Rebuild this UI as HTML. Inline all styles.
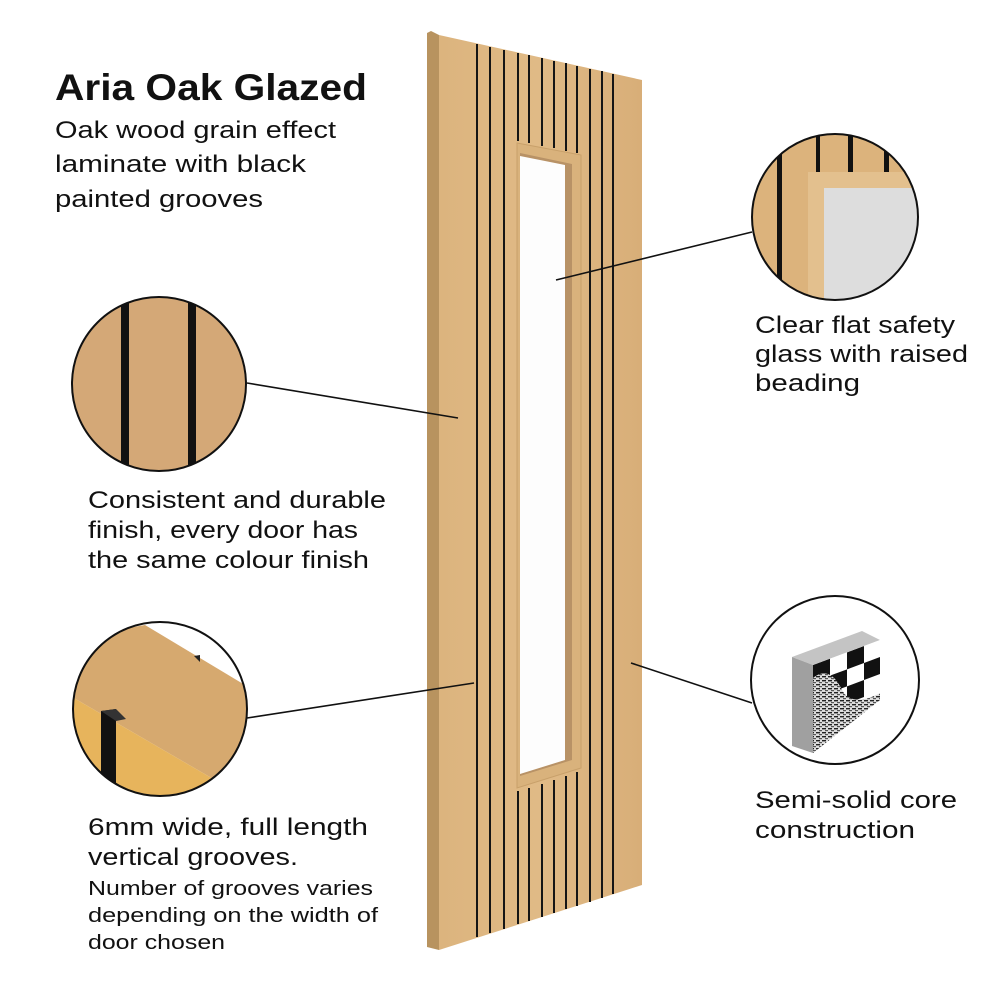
<!DOCTYPE html>
<html><head><meta charset="utf-8"><style>
html,body{margin:0;padding:0;background:#fff;}
svg{display:block;}
text{font-family:"Liberation Sans",sans-serif;fill:#111;}
</style></head><body>
<svg width="1000" height="1000" viewBox="0 0 1000 1000" xmlns="http://www.w3.org/2000/svg">
<defs>
<clipPath id="c1"><circle cx="159" cy="384" r="87"/></clipPath>
<clipPath id="c2"><circle cx="160" cy="709" r="87"/></clipPath>
<clipPath id="c3"><circle cx="835" cy="217" r="83"/></clipPath>
<clipPath id="face4"><polygon points="813,665 880,640 880,700 813,753"/></clipPath>
<linearGradient id="wood" x1="0" x2="1">
<stop offset="0" stop-color="#dcb47e"/><stop offset="0.5" stop-color="#e0ba86"/><stop offset="1" stop-color="#d8ae78"/>
</linearGradient>
<pattern id="noise" width="6" height="4" patternUnits="userSpaceOnUse">
<rect width="6" height="4" fill="#ddd"/><rect x="0" y="0" width="4" height="1.4" fill="#222"/><rect x="3" y="2" width="3" height="1.2" fill="#555"/>
</pattern>
</defs>

<polygon points="427,33 431,31 439,35 439,950 427,947" fill="#b8935f"/>
<polygon points="439,35 642,80 642,885 439,950" fill="url(#wood)"/>
<polygon points="517,143 581,155 581,768 517,788" fill="#d9b27c" stroke="#c8a06a" stroke-width="1"/>
<polygon points="520,153 572,164 572,760 520,776" fill="#b89266"/>
<polygon points="520,156 565,165 565,760 520,774" fill="#fdfdfd"/>

<g stroke="#151515" stroke-width="2">
<line x1="477" y1="44" x2="477" y2="937"/>
<line x1="490" y1="47" x2="490" y2="933"/>
<line x1="504" y1="50" x2="504" y2="929"/>
<line x1="590" y1="69" x2="590" y2="902"/>
<line x1="602" y1="71" x2="602" y2="898"/>
<line x1="613" y1="74" x2="613" y2="894"/>
<line x1="518" y1="53" x2="518" y2="141"/>
<line x1="529" y1="55" x2="529" y2="143"/>
<line x1="542" y1="58" x2="542" y2="146"/>
<line x1="554" y1="61" x2="554" y2="148"/>
<line x1="566" y1="63" x2="566" y2="151"/>
<line x1="577" y1="66" x2="577" y2="153"/>
<line x1="518" y1="791" x2="518" y2="924"/>
<line x1="529" y1="788" x2="529" y2="921"/>
<line x1="542" y1="784" x2="542" y2="917"/>
<line x1="554" y1="780" x2="554" y2="913"/>
<line x1="566" y1="776" x2="566" y2="909"/>
<line x1="577" y1="772" x2="577" y2="906"/>
</g>

<g stroke="#111" stroke-width="1.6">
<line x1="247" y1="383" x2="458" y2="418"/>
<line x1="247" y1="718" x2="474" y2="683"/>
<line x1="752" y1="232" x2="556" y2="280"/>
<line x1="752" y1="703" x2="631" y2="663"/>
</g>

<g clip-path="url(#c1)">
<rect x="60" y="290" width="200" height="200" fill="#d4a877"/>
<rect x="121" y="290" width="8" height="200" fill="#111"/>
<rect x="188" y="290" width="8" height="200" fill="#111"/>
</g>
<circle cx="159" cy="384" r="87" fill="none" stroke="#111" stroke-width="2"/>

<g clip-path="url(#c2)">
<rect x="60" y="600" width="210" height="210" fill="#fff"/>
<polygon points="60,640 145,625 270,700 270,790 215,780 60,690" fill="#d6a96f"/>
<polygon points="60,690 215,780 270,790 270,820 60,820" fill="#e7b45c"/>
<polygon points="101,711 116,709 116,800 101,800" fill="#111"/>
<polygon points="101,711 116,709 126,719 116,721" fill="#333"/>
<polygon points="194,656 200,655 200,662" fill="#222"/>
</g>
<circle cx="160" cy="709" r="87" fill="none" stroke="#111" stroke-width="2"/>

<g clip-path="url(#c3)">
<rect x="740" y="120" width="200" height="200" fill="#dcb37c"/>
<rect x="777" y="140" width="5" height="170" fill="#111"/>
<rect x="816" y="120" width="4" height="52" fill="#111"/>
<rect x="848" y="120" width="5" height="52" fill="#111"/>
<rect x="884" y="120" width="5" height="52" fill="#111"/>
<polygon points="808,172 930,172 930,188 824,188 824,310 808,310" fill="#e3c08e"/>
<rect x="824" y="188" width="110" height="130" fill="#dddddd"/>
</g>
<circle cx="835" cy="217" r="83" fill="none" stroke="#111" stroke-width="2"/>

<circle cx="835" cy="680" r="84" fill="#fff" stroke="#111" stroke-width="2"/>
<polygon points="792,657 862,631 880,640 813,665" fill="#c4c4c4"/>
<polygon points="792,657 813,665 813,753 792,746" fill="#a0a0a0"/>
<g clip-path="url(#face4)">
<polygon points="813,665 880,640 880,700 813,753" fill="#fff"/>
<g transform="matrix(1,-0.373,0,1,813,665)" fill="#111">
<rect x="0" y="0" width="17" height="17"/>
<rect x="34" y="0" width="17" height="17"/>
<rect x="17" y="17" width="17" height="17"/>
<rect x="51" y="17" width="17" height="17"/>
<rect x="0" y="34" width="17" height="17"/>
<rect x="34" y="34" width="17" height="17"/>
</g>
<path d="M813,678 C825,668 835,675 842,690 C850,705 868,700 882,692 L882,760 L813,760 Z" fill="url(#noise)"/>
</g>

<text x="55" y="100" font-size="37" font-weight="bold" textLength="312" lengthAdjust="spacingAndGlyphs">Aria Oak Glazed</text>
<g font-size="24">
<text x="55" y="138" textLength="281" lengthAdjust="spacingAndGlyphs">Oak wood grain effect</text>
<text x="55" y="172" textLength="251" lengthAdjust="spacingAndGlyphs">laminate with black</text>
<text x="55" y="207" textLength="208" lengthAdjust="spacingAndGlyphs">painted grooves</text>
<text x="88" y="508" textLength="298" lengthAdjust="spacingAndGlyphs">Consistent and durable</text>
<text x="88" y="538" textLength="270" lengthAdjust="spacingAndGlyphs">finish, every door has</text>
<text x="88" y="568" textLength="281" lengthAdjust="spacingAndGlyphs">the same colour finish</text>
<text x="88" y="835" textLength="280" lengthAdjust="spacingAndGlyphs">6mm wide, full length</text>
<text x="88" y="865" textLength="210" lengthAdjust="spacingAndGlyphs">vertical grooves.</text>
<text x="755" y="333" textLength="200" lengthAdjust="spacingAndGlyphs">Clear flat safety</text>
<text x="755" y="362" textLength="213" lengthAdjust="spacingAndGlyphs">glass with raised</text>
<text x="755" y="391" textLength="105" lengthAdjust="spacingAndGlyphs">beading</text>
<text x="755" y="808" textLength="202" lengthAdjust="spacingAndGlyphs">Semi-solid core</text>
<text x="755" y="838" textLength="160" lengthAdjust="spacingAndGlyphs">construction</text>
</g>
<g font-size="20">
<text x="88" y="895" textLength="285" lengthAdjust="spacingAndGlyphs">Number of grooves varies</text>
<text x="88" y="922" textLength="290" lengthAdjust="spacingAndGlyphs">depending on the width of</text>
<text x="88" y="949" textLength="137" lengthAdjust="spacingAndGlyphs">door chosen</text>
</g>
</svg>
</body></html>
